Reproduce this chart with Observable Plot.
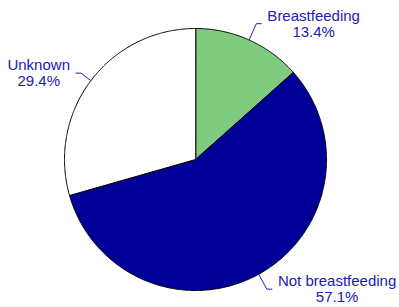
<!DOCTYPE html>
<html>
<head>
<meta charset="utf-8">
<script src="https://cdn.jsdelivr.net/npm/d3@7"></script>
<script src="https://cdn.jsdelivr.net/npm/@observablehq/plot@0.6"></script>
<style>
  html, body { margin: 0; padding: 0; background: #fff; }
  #chart { width: 399px; height: 307px; }
</style>
</head>
<body>
<div id="chart"></div>
<script>
// Data
const categories = ["Breastfeeding", "Not breastfeeding", "Unknown"];
const percents = [13.4, 57.1, 29.4];
const colors = ["#7fcb7f", "#000099", "#ffffff"];

const W = 399, H = 307;
const FONT = "Arial, 'Liberation Sans', Helvetica, sans-serif";
const FS = 15;
const TEXT_COLOR = "#2020b4";

// pie geometry in unit circle (clockwise from 12 o'clock)
const total = d3.sum(percents);
const pie = d3.pie().sort(null).value(d => d)(percents);

const slicePts = [];
pie.forEach((s, i) => {
  slicePts.push({k: i, x: 0, y: 0});
  const n = Math.max(2, Math.ceil((s.endAngle - s.startAngle) / (Math.PI / 360)));
  for (let j = 0; j <= n; j++) {
    const a = s.startAngle + (s.endAngle - s.startAngle) * j / n;
    slicePts.push({k: i, x: Math.sin(a), y: Math.cos(a)});
  }
});

// leader lines and labels
const R = 131; // pixels per unit
const leaderPts = [];
const labels = [];
const ctx = document.createElement("canvas").getContext("2d");
ctx.font = `${FS}px ${FONT}`;
const outer = [1.136, 1.13, 1.095];
pie.forEach((s, i) => {
  const a = (s.startAngle + s.endAngle) / 2;
  const sx = Math.sin(a), sy = Math.cos(a);
  const side = sx >= 0 ? 1 : -1;
  const ex = sx * outer[i], ey = sy * outer[i];
  const tx = ex + side * 5 / R;
  leaderPts.push({k: i, x: sx, y: sy}, {k: i, x: ex, y: ey}, {k: i, x: tx, y: ey});
  const txt = `${categories[i]}\n${percents[i].toFixed(1)}%`;
  const wMax = Math.max(ctx.measureText(categories[i]).width, ctx.measureText(percents[i].toFixed(1) + "%").width);
  labels.push({x: tx + side * (6 + wMax / 2) / R, y: ey, text: txt});
});

const plot = Plot.plot({
  width: W,
  height: H,
  marginLeft: 64,
  marginRight: 73,
  marginTop: 28,
  marginBottom: 17,
  x: {domain: [-1, 1], axis: null},
  y: {domain: [-1, 1], axis: null},
  style: {fontFamily: FONT, background: "#fff", overflow: "visible"},
  marks: [
    Plot.line(slicePts, {
      x: "x", y: "y", z: "k",
      fill: d => colors[d.k],
      stroke: "#000",
      strokeWidth: 1,
      curve: "linear-closed"
    }),
    Plot.line(leaderPts, {
      x: "x", y: "y", z: "k",
      stroke: TEXT_COLOR,
      strokeWidth: 1
    }),
    Plot.text(labels, {
      x: "x", y: "y", text: "text",
      fill: TEXT_COLOR,
      fontSize: FS,
      lineHeight: 1.07,
      textAnchor: "middle",
      lineAnchor: "middle"
    })
  ]
});
document.getElementById("chart").appendChild(plot);
</script>
</body>
</html>
